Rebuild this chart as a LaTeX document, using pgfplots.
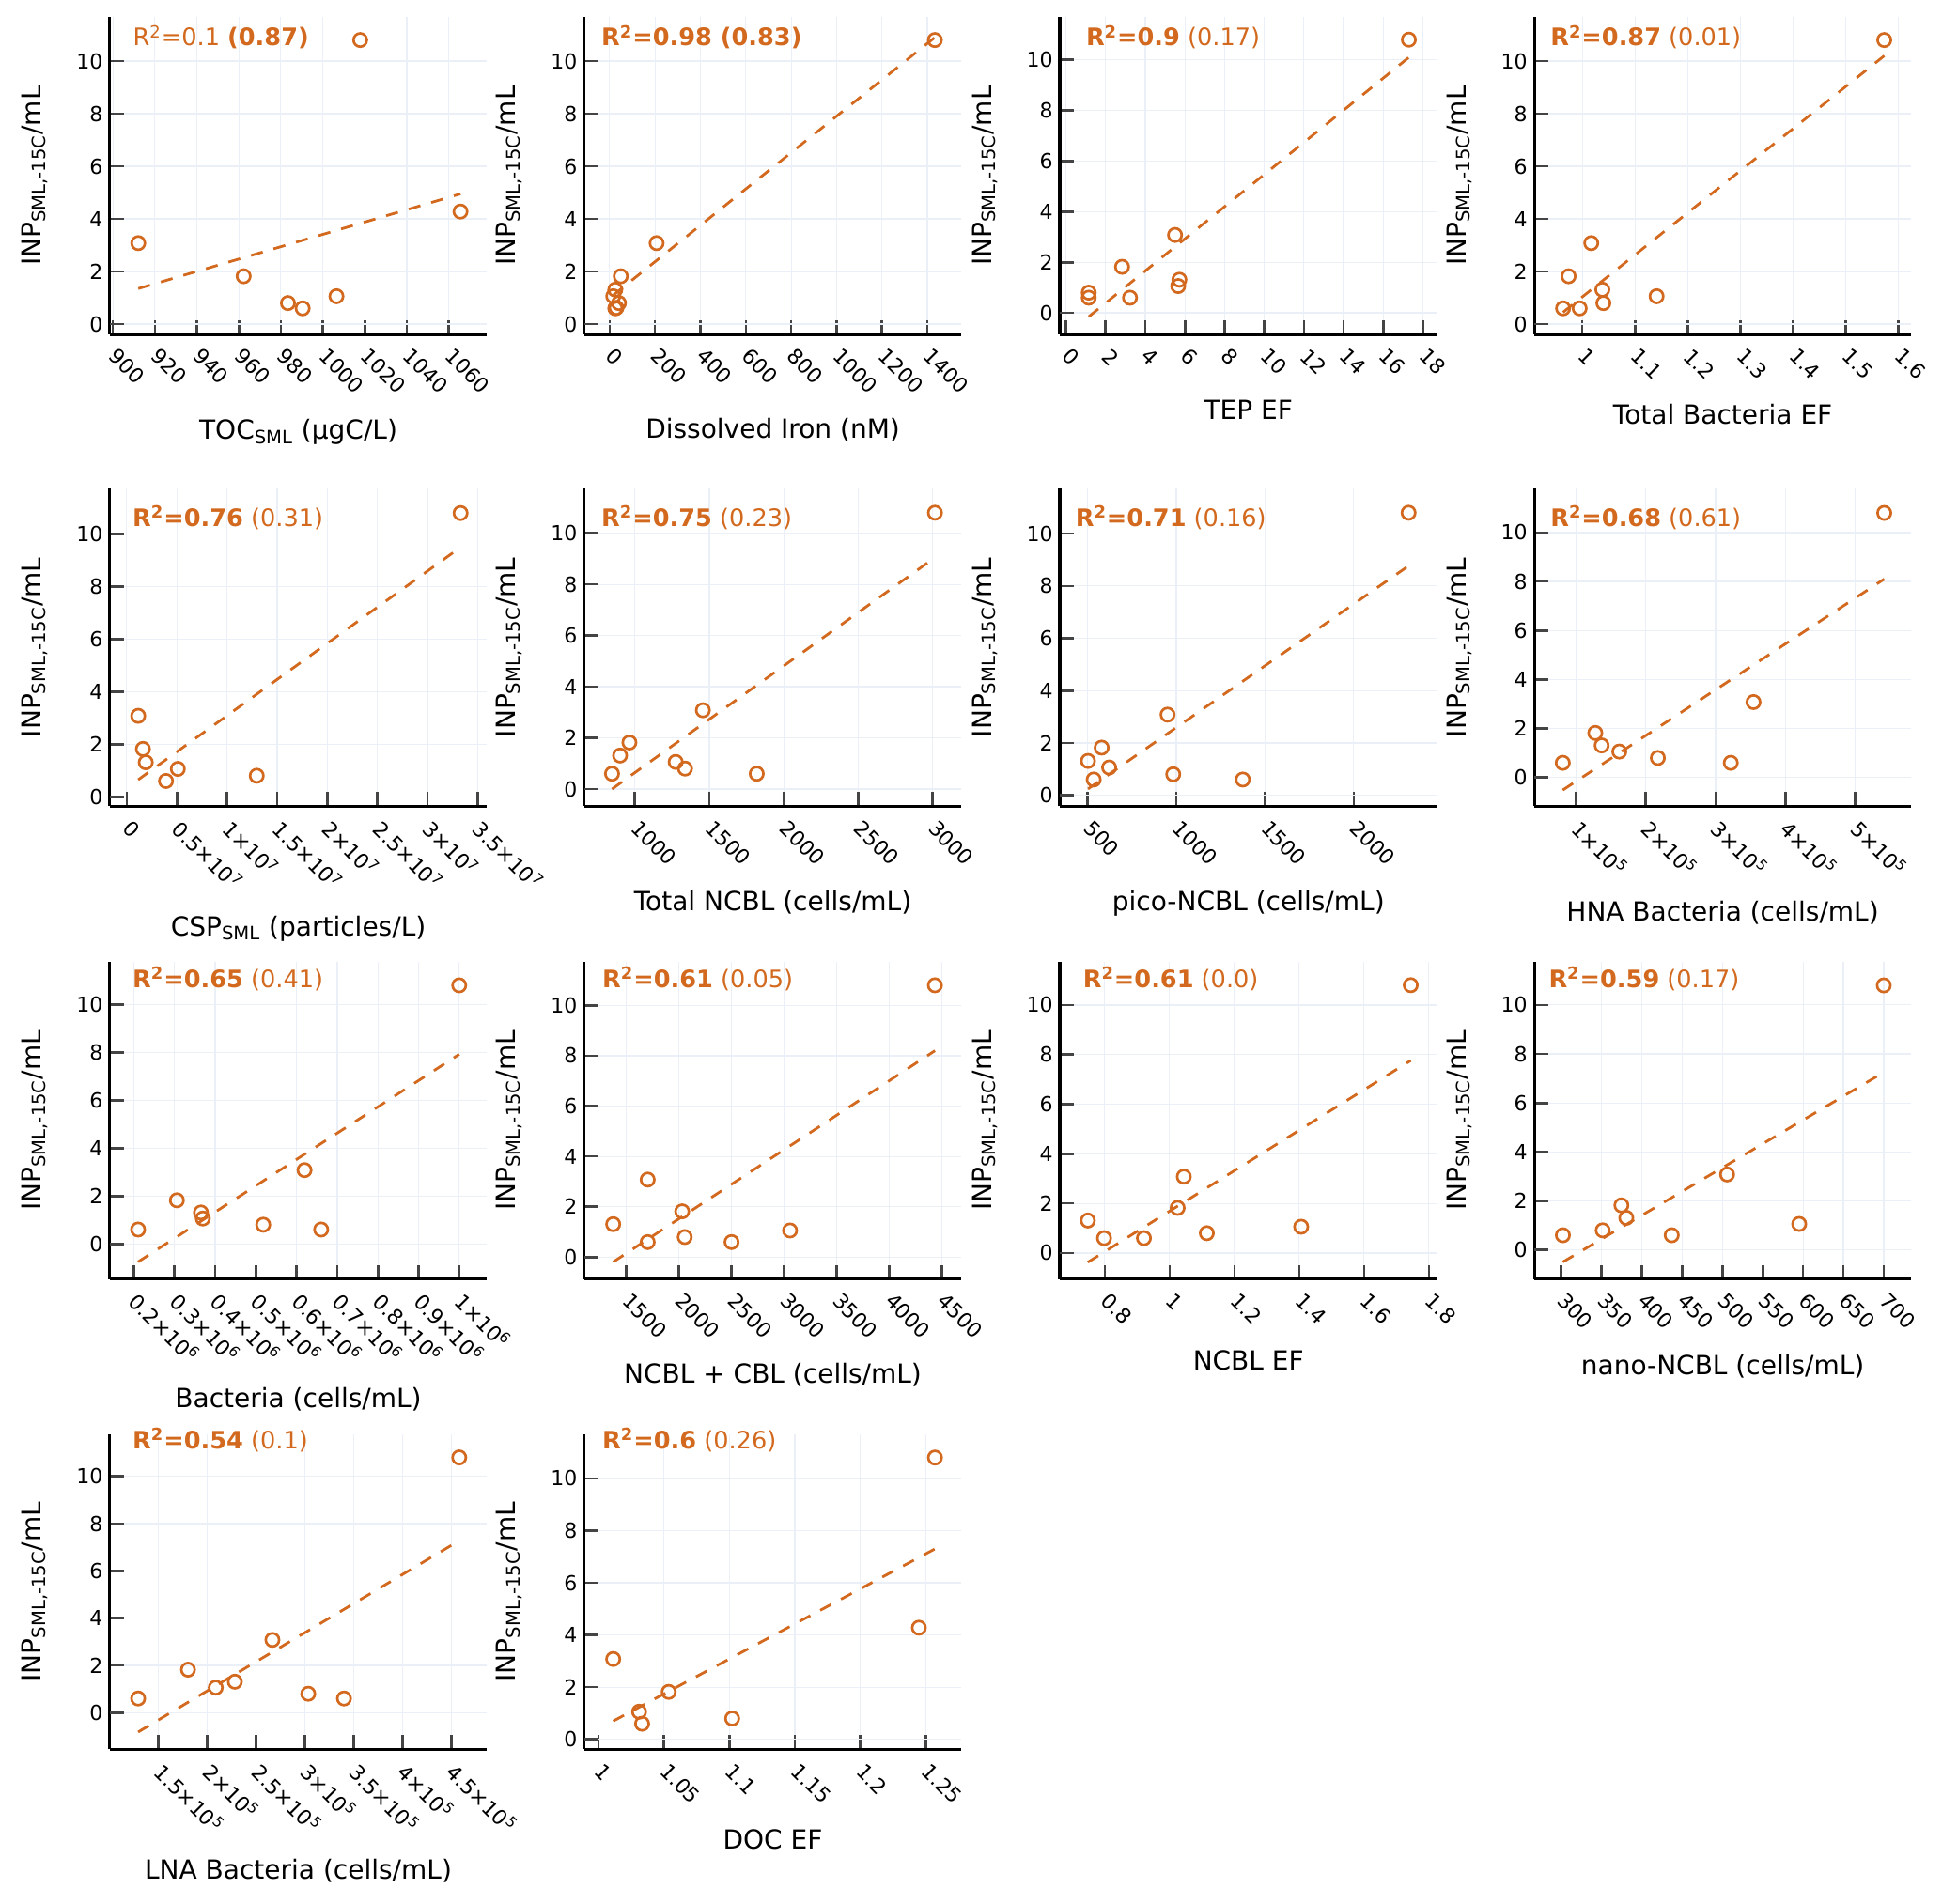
\documentclass[border=0pt]{standalone}
\usepackage{fontspec}
\setmainfont{DejaVu Sans}
\usepackage{pgfplots}
\pgfplotsset{compat=1.18}
\newdimen\px \px=0.5pt
\definecolor{ora}{HTML}{D2691E}
\definecolor{gridc}{HTML}{EBF0F8}
\definecolor{tickc}{HTML}{444444}
\newcommand\tf{\fontsize{11pt}{13pt}\selectfont}
\newcommand\lf{\fontsize{14pt}{16pt}\selectfont}
\newcommand\rf{\fontsize{12.8pt}{15pt}\selectfont}
\newcommand\E[1]{×10\textsuperscript{#1}}
\newcommand\INP{INP\textsubscript{SML,-15C}/mL}
\newcommand\rt[3]{\node[anchor=base west, font=\rf, text=ora, inner sep=0pt] at ([xshift=#1\px,yshift=-#2\px]rel axis cs:0,1) {#3};}
\pgfplotsset{
 panel/.style={
  scale only axis, anchor=south west,
  axis x line*=bottom, axis y line*=left,
  axis line style={-, black, line width=3.2\px},
  tick align=inside, major tick length=15\px,
  tick style={tickc, line width=2.6\px},
  grid=major, major grid style={gridc, line width=1.2\px},
  ytick={0,2,4,6,8,10}, yticklabels={0,2,4,6,8,10},
  yticklabel style={font=\tf, anchor=east, inner sep=0pt},
  yticklabel shift=7\px,
  xticklabel style={font=\tf, anchor=west, rotate=-45, inner sep=0pt},
  xticklabel shift=19\px,
  scaled ticks=false, clip=false,
  ylabel={\INP},
  ylabel style={at={([xshift=-73\px]axis description cs:0,0.5)}, anchor=base, font=\lf},
  extra y ticks={0}, extra y tick labels={}, extra y tick style={grid style={gridc, line width=3\px}},
 },
 xl/.style={xlabel style={at={([yshift=-#1\px]axis description cs:0.5,0)}, anchor=base, font=\lf}},
 mk/.style={only marks, mark=o, ora, mark size=7.1\px, mark options={line width=2.7\px, solid}},
 fit/.style={ora, line width=2.8\px, dash pattern=on 13\px off 12\px, no marks},
}
\begin{document}
\begin{tikzpicture}
\useasboundingbox (0,0) rectangle (2067\px,2026\px);
% ---------- Row 1 ----------
\begin{axis}[panel, at={(116.8\px,1670\px)}, width=401.5\px, height=338\px,
 xmin=898.5, xmax=1078.2, ymin=-0.39, ymax=11.68,
 xtick={900,920,940,960,980,1000,1020,1040,1060}, xticklabels={900,920,940,960,980,1000,1020,1040,1060},
 xlabel={TOC\textsubscript{SML} (µgC/L)}, xl=112]
\addplot[fit] coordinates {(912.1,1.35) (1065.6,4.95)};
\addplot[mk] coordinates {(912.1,3.08) (962.3,1.82) (983.4,0.80) (990.4,0.60) (1006.5,1.06) (1017.8,10.8) (1065.6,4.28)};
\rt{24.5}{31}{R\textsuperscript{2}=0.1 \textbf{(0.87)}}
\end{axis}
\begin{axis}[panel, at={(621.8\px,1670\px)}, width=401.5\px, height=338\px,
 xmin=-112, xmax=1550, ymin=-0.39, ymax=11.68,
 xtick={0,200,400,600,800,1000,1200,1400}, xticklabels={0,200,400,600,800,1000,1200,1400},
 xlabel={Dissolved Iron (nM)}, xl=111]
\addplot[fit] coordinates {(16,1.1) (1433,10.9)};
\addplot[mk] coordinates {(16,1.06) (25,1.31) (41,0.80) (25,0.60) (30,0.62) (49,1.82) (207,3.08) (1433,10.8)};
\rt{18}{31}{\textbf{R\textsuperscript{2}=0.98 (0.83)}}
\end{axis}
\begin{axis}[panel, at={(1128\px,1670\px)}, width=401.5\px, height=338\px,
 xmin=-0.31, xmax=18.71, ymin=-0.85, ymax=11.7,
 xtick={0,2,4,6,8,10,12,14,16,18}, xticklabels={0,2,4,6,8,10,12,14,16,18},
 xlabel={TEP EF}, xl=91]
\addplot[fit] coordinates {(1.15,-0.15) (17.29,10.1)};
\addplot[mk] coordinates {(1.15,0.80) (1.15,0.60) (2.83,1.82) (3.23,0.60) (5.50,3.08) (5.66,1.06) (5.72,1.31) (17.29,10.8)};
\rt{27.6}{31}{\textbf{R\textsuperscript{2}=0.9} (0.17)}
\end{axis}
\begin{axis}[panel, at={(1633.1\px,1670\px)}, width=401\px, height=338\px,
 xmin=0.909, xmax=1.624, ymin=-0.39, ymax=11.68,
 xtick={1,1.1,1.2,1.3,1.4,1.5,1.6}, xticklabels={1,1.1,1.2,1.3,1.4,1.5,1.6},
 xlabel={Total Bacteria EF}, xl=96]
\addplot[fit] coordinates {(0.9635,0.45) (1.573,10.2)};
\addplot[mk] coordinates {(0.9635,0.60) (0.974,1.82) (0.995,0.60) (1.017,3.08) (1.038,1.31) (1.040,0.80) (1.141,1.06) (1.573,10.8)};
\rt{16.8}{31}{\textbf{R\textsuperscript{2}=0.87} (0.01)}
\end{axis}
% ---------- Row 2 ----------
\begin{axis}[panel, at={(116.8\px,1167.7\px)}, width=401.5\px, height=337.8\px,
 xmin=-1.69e6, xmax=3.593e7, ymin=-0.36, ymax=11.72,
 xtick={0,5e6,1e7,1.5e7,2e7,2.5e7,3e7,3.5e7}, xticklabels={0,0.5\E7,1\E7,1.5\E7,2\E7,2.5\E7,3\E7,3.5\E7},
 xlabel={CSP\textsubscript{SML} (particles/L)}, xl=138]
\addplot[fit] coordinates {(1.15e6,0.65) (3.33e7,9.5)};
\addplot[mk] coordinates {(1.15e6,3.08) (1.62e6,1.82) (1.90e6,1.31) (3.92e6,0.60) (5.10e6,1.06) (1.297e7,0.80) (3.33e7,10.8)};
\rt{24}{40}{\textbf{R\textsuperscript{2}=0.76} (0.31)}
\end{axis}
\begin{axis}[panel, at={(621.8\px,1167.7\px)}, width=401.5\px, height=337.8\px,
 xmin=659, xmax=3195, ymin=-0.67, ymax=11.73,
 xtick={1000,1500,2000,2500,3000}, xticklabels={1000,1500,2000,2500,3000},
 xlabel={Total NCBL (cells/mL)}, xl=111]
\addplot[fit] coordinates {(846,0.0) (3017,9.05)};
\addplot[mk] coordinates {(846,0.60) (900,1.31) (963,1.82) (1274,1.06) (1337,0.80) (1457,3.08) (1819,0.60) (3017,10.8)};
\rt{18}{40}{\textbf{R\textsuperscript{2}=0.75} (0.23)}
\end{axis}
\begin{axis}[panel, at={(1128\px,1167.7\px)}, width=401.5\px, height=337.8\px,
 xmin=344, xmax=2469, ymin=-0.42, ymax=11.71,
 xtick={500,1000,1500,2000}, xticklabels={500,1000,1500,2000},
 xlabel={pico-NCBL (cells/mL)}, xl=111]
\addplot[fit] coordinates {(503,0.24) (2309,8.77)};
\addplot[mk] coordinates {(503,1.31) (535,0.60) (580,1.82) (622,1.06) (951,3.08) (983,0.80) (1375,0.60) (2309,10.8)};
\rt{16.4}{40}{\textbf{R\textsuperscript{2}=0.71} (0.16)}
\end{axis}
\begin{axis}[panel, at={(1633.1\px,1167.7\px)}, width=401\px, height=337.8\px,
 xmin=40270, xmax=580100, ymin=-1.17, ymax=11.78,
 xtick={1e5,2e5,3e5,4e5,5e5}, xticklabels={1\E5,2\E5,3\E5,4\E5,5\E5},
 xlabel={HNA Bacteria (cells/mL)}, xl=122]
\addplot[fit] coordinates {(81000,-0.51) (541600,8.1)};
\addplot[mk] coordinates {(81000,0.60) (127600,1.82) (136650,1.31) (162000,1.06) (217200,0.80) (321700,0.60) (354300,3.08) (541600,10.8)};
\rt{16.8}{40}{\textbf{R\textsuperscript{2}=0.68} (0.61)}
\end{axis}
% ---------- Row 3 ----------
\begin{axis}[panel, at={(116.8\px,664.3\px)}, width=401.5\px, height=337.7\px,
 xmin=140900, xmax=1068100, ymin=-1.47, ymax=11.78,
 xtick={2e5,3e5,4e5,5e5,6e5,7e5,8e5,9e5,1e6}, xticklabels={0.2\E6,0.3\E6,0.4\E6,0.5\E6,0.6\E6,0.7\E6,0.8\E6,0.9\E6,1\E6},
 xlabel={Bacteria (cells/mL)}, xl=137]
\addplot[fit] coordinates {(210600,-0.75) (1000000,7.92)};
\addplot[mk] coordinates {(210600,0.60) (306000,1.82) (365100,1.31) (369700,1.06) (518200,0.80) (619700,3.08) (660600,0.60) (1000000,10.8)};
\rt{24}{27.7}{\textbf{R\textsuperscript{2}=0.65} (0.41)}
\end{axis}
\begin{axis}[panel, at={(621.8\px,664.3\px)}, width=401.5\px, height=337.7\px,
 xmin=1101.6, xmax=4687, ymin=-0.87, ymax=11.73,
 xtick={1500,2000,2500,3000,3500,4000,4500}, xticklabels={1500,2000,2500,3000,3500,4000,4500},
 xlabel={NCBL + CBL (cells/mL)}, xl=111]
\addplot[fit] coordinates {(1377,-0.19) (4435,8.2)};
\addplot[mk] coordinates {(1377,1.31) (1705,3.08) (1705,0.60) (2033,1.82) (2057,0.80) (2502,0.60) (3058,1.06) (4435,10.8)};
\rt{19}{27.7}{\textbf{R\textsuperscript{2}=0.61} (0.05)}
\end{axis}
\begin{axis}[panel, at={(1128\px,664.3\px)}, width=401.5\px, height=337.7\px,
 xmin=0.6615, xmax=1.825, ymin=-1.05, ymax=11.74,
 xtick={0.8,1,1.2,1.4,1.6,1.8}, xticklabels={0.8,1,1.2,1.4,1.6,1.8},
 xlabel={NCBL EF}, xl=97]
\addplot[fit] coordinates {(0.748,-0.37) (1.744,7.76)};
\addplot[mk] coordinates {(0.748,1.31) (0.798,0.60) (0.921,0.60) (1.025,1.82) (1.044,3.08) (1.115,0.80) (1.406,1.06) (1.744,10.8)};
\rt{24.4}{27.7}{\textbf{R\textsuperscript{2}=0.61} (0.0)}
\end{axis}
\begin{axis}[panel, at={(1633.1\px,664.3\px)}, width=401\px, height=337.7\px,
 xmin=266.9, xmax=733.9, ymin=-1.19, ymax=11.76,
 xtick={300,350,400,450,500,550,600,650,700}, xticklabels={300,350,400,450,500,550,600,650,700},
 xlabel={nano-NCBL (cells/mL)}, xl=102]
\addplot[fit] coordinates {(302.3,-0.49) (700,7.25)};
\addplot[mk] coordinates {(302.3,0.60) (351.6,0.80) (374.8,1.82) (380.9,1.31) (437.2,0.60) (505.8,3.08) (595.2,1.06) (700,10.8)};
\rt{15}{27.7}{\textbf{R\textsuperscript{2}=0.59} (0.17)}
\end{axis}
% ---------- Row 4 ----------
\begin{axis}[panel, at={(116.8\px,163.7\px)}, width=401.5\px, height=335.6\px,
 xmin=100100, xmax=486600, ymin=-1.55, ymax=11.79,
 xtick={1.5e5,2e5,2.5e5,3e5,3.5e5,4e5,4.5e5}, xticklabels={1.5\E5,2\E5,2.5\E5,3\E5,3.5\E5,4\E5,4.5\E5},
 xlabel={LNA Bacteria (cells/mL)}, xl=138]
\addplot[fit] coordinates {(129200,-0.82) (458200,7.28)};
\addplot[mk] coordinates {(129200,0.60) (180300,1.82) (208700,1.06) (228300,1.31) (266800,3.08) (303500,0.80) (340100,0.60) (458200,10.8)};
\rt{24}{16}{\textbf{R\textsuperscript{2}=0.54} (0.1)}
\end{axis}
\begin{axis}[panel, at={(621.8\px,163.7\px)}, width=401.5\px, height=335.6\px,
 xmin=0.98917, xmax=1.2773, ymin=-0.38, ymax=11.70,
 xtick={1,1.05,1.1,1.15,1.2,1.25}, xticklabels={1,1.05,1.1,1.15,1.2,1.25},
 xlabel={DOC EF}, xl=106]
\addplot[fit] coordinates {(1.0113,0.70) (1.2571,7.30)};
\addplot[mk] coordinates {(1.0113,3.08) (1.0311,1.06) (1.0334,0.60) (1.0537,1.82) (1.1022,0.80) (1.2448,4.28) (1.2571,10.8)};
\rt{19}{16}{\textbf{R\textsuperscript{2}=0.6} (0.26)}
\end{axis}
\end{tikzpicture}
\end{document}
